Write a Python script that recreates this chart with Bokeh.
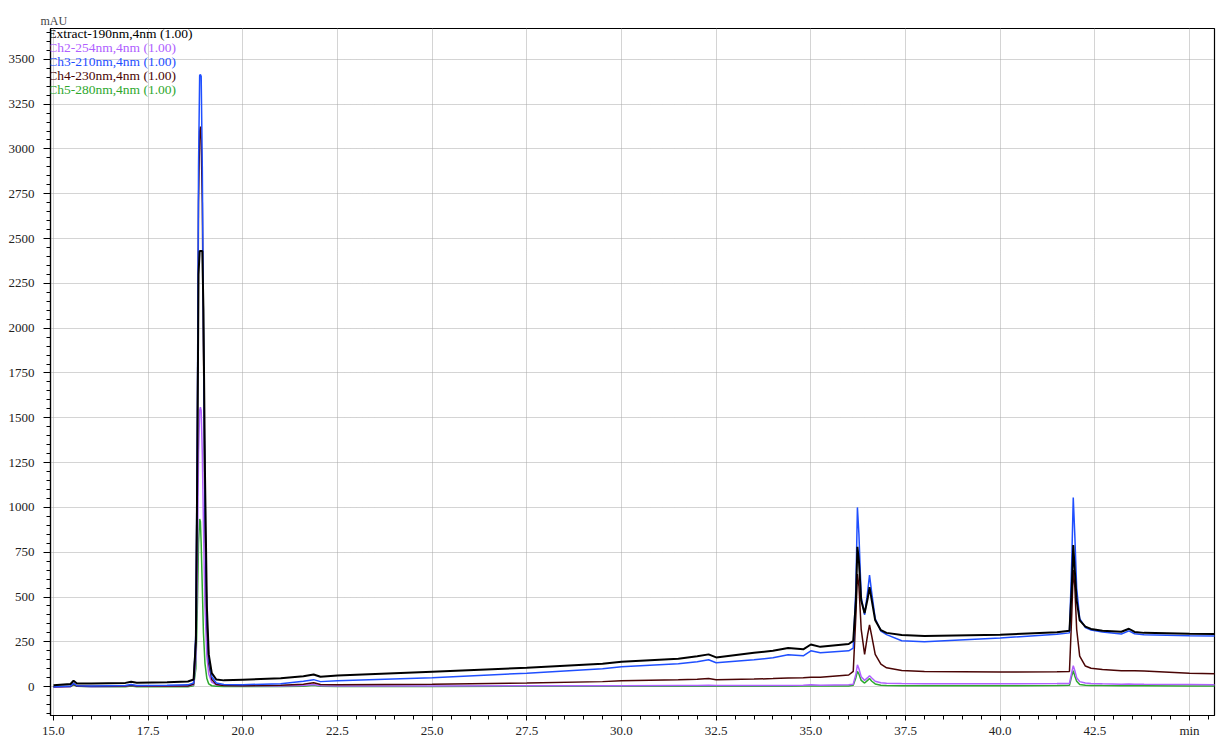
from bokeh.plotting import figure
from bokeh.models import Range1d, FixedTicker, Label, NumeralTickFormatter
from bokeh.embed import file_html
from bokeh.resources import INLINE

# retention time (min)
time_min = [
    15.00, 15.45, 15.53, 15.62, 16.00, 16.90, 17.05, 17.20, 18.00, 18.55,
    18.70, 18.76, 18.80, 18.83, 18.86, 18.88, 18.90, 18.93, 18.96, 19.00,
    19.05, 19.10, 19.18, 19.30, 19.50, 20.00, 21.00, 21.60, 21.87, 22.05,
    22.50, 25.00, 27.50, 29.50, 30.00, 31.50, 32.00, 32.30, 32.50, 33.50,
    34.00, 34.40, 34.80, 35.00, 35.25, 36.00, 36.12, 36.19, 36.23, 36.27,
    36.33, 36.42, 36.50, 36.55, 36.61, 36.70, 36.85, 37.00, 37.40, 38.00,
    40.00, 41.50, 41.83, 41.89, 41.93, 41.97, 42.02, 42.10, 42.25, 42.40,
    42.70, 43.20, 43.40, 43.55, 43.80, 45.00, 45.80,
]

extract_190 = [
    8, 15, 33, 18, 17, 21, 27, 22, 25, 29,
    40, 250, 1300, 2300, 2430, 2430, 2430, 2430, 2100, 1200,
    450, 180, 75, 40, 35, 39, 47, 58, 68, 55,
    62, 83, 105, 128, 139, 156, 170, 180, 163, 189,
    200, 215, 208, 235, 222, 238, 255, 480, 780, 700,
    480, 410, 490, 555, 480, 370, 315, 300, 288, 283,
    290, 303, 312, 550, 790, 650, 480, 370, 335, 322,
    312, 306, 323, 305, 300, 295, 293,
]

ch2_254 = [
    -3, 0, 18, 3, 0, 2, 8, 2, 2, 3,
    10, 150, 700, 1300, 1540, 1560, 1540, 1300, 900, 450,
    170, 70, 25, 10, 6, 5, 4, 6, 12, 5,
    4, 4, 5, 5, 5, 6, 6, 8, 6, 6,
    7, 7, 8, 10, 8, 10, 14, 70, 122, 100,
    55, 35, 50, 61, 48, 30, 22, 19, 17, 16,
    16, 17, 18, 80, 117, 90, 50, 28, 20, 18,
    16, 14, 15, 14, 13, 12, 11,
]

ch3_210 = [
    0, 3, 18, 5, 4, 6, 12, 7, 8, 10,
    20, 300, 1500, 2900, 3410, 3415, 3405, 2900, 2000, 1000,
    380, 150, 55, 20, 12, 11, 16, 30, 39, 28,
    33, 50, 75, 100, 111, 128, 139, 150, 133, 150,
    161, 178, 172, 200, 189, 200, 215, 550, 1000, 850,
    500, 400, 530, 622, 520, 380, 310, 290, 256, 250,
    272, 292, 300, 700, 1055, 850, 550, 380, 330, 316,
    305, 294, 311, 295, 289, 284, 282,
]

ch4_230 = [
    0, 2, 14, 3, 2, 3, 8, 3, 3, 4,
    15, 280, 1400, 2700, 3100, 3125, 3050, 2700, 1900, 950,
    350, 130, 40, 12, 6, 5, 8, 14, 22, 12,
    11, 13, 20, 28, 33, 38, 41, 46, 39, 42,
    45, 48, 49, 52, 52, 65, 85, 400, 628, 560,
    320, 180, 290, 344, 280, 180, 125, 105, 90, 84,
    82, 83, 85, 400, 650, 560, 320, 170, 115, 103,
    95, 89, 88, 88, 87, 75, 72,
]

ch5_280 = [
    -2, 0, 10, 2, 0, 0, 3, 0, 0, 0,
    5, 100, 450, 800, 935, 920, 800, 550, 300, 130,
    45, 15, 5, 2, 1, 1, 1, 2, 8, 2,
    1, 1, 2, 2, 2, 2, 2, 3, 2, 2,
    2, 2, 3, 4, 3, 4, 8, 50, 85, 70,
    35, 20, 35, 45, 30, 15, 8, 6, 5, 5,
    5, 6, 8, 60, 89, 60, 30, 12, 8, 7,
    6, 5, 5, 5, 5, 4, 4,
]

channel_names = [
    "Extract-190nm,4nm (1.00)",
    "Ch2-254nm,4nm (1.00)",
    "Ch3-210nm,4nm (1.00)",
    "Ch4-230nm,4nm (1.00)",
    "Ch5-280nm,4nm (1.00)",
]
channel_colors = ["#000000", "#b060ff", "#1f4fff", "#4a0505", "#2ea82e"]

x_ticks = [15.0, 17.5, 20.0, 22.5, 25.0, 27.5, 30.0, 32.5, 35.0, 37.5, 40.0, 42.5, 45.0]
y_ticks = [0, 250, 500, 750, 1000, 1250, 1500, 1750, 2000, 2250, 2500, 2750, 3000, 3250, 3500]

FONT = "Liberation Serif"

p = figure(width=1216, height=740, output_backend="svg", toolbar_location=None,
           x_range=Range1d(14.921, 45.66), y_range=Range1d(-161, 3672),
           min_border_left=50, min_border_right=2, min_border_top=28, min_border_bottom=22,
           background_fill_color="white", border_fill_color="white")

p.outline_line_color = "black"
p.outline_line_width = 1.2
p.outline_line_alpha = 1.0

p.title.text = "mAU"
p.title.text_font = FONT
p.title.text_font_size = "12px"
p.title.text_font_style = "normal"
p.title.align = "left"
p.title.offset = -10
p.title.standoff = 2

xminor = [15.0 + 0.5 * i for i in range(62)]
yminor = [-150 + 50 * i for i in range(77)]
p.xaxis.ticker = FixedTicker(ticks=x_ticks, minor_ticks=xminor)
p.yaxis.ticker = FixedTicker(ticks=y_ticks, minor_ticks=yminor)
p.xaxis.formatter = NumeralTickFormatter(format="0.0")
p.xaxis.major_label_overrides = {45.0: "min"}

for ax in (p.xaxis[0], p.yaxis[0]):
    ax.axis_line_color = "black"
    ax.axis_line_width = 1.2
    ax.major_tick_line_color = "black"
    ax.minor_tick_line_color = "black"
    ax.major_tick_in = 0
    ax.minor_tick_in = 0
    ax.major_label_text_font = FONT
    ax.major_label_text_font_size = "13px"
    ax.major_label_text_color = "#222222"

p.yaxis.major_tick_out = 7
p.yaxis.minor_tick_out = 4
p.yaxis.major_label_standoff = 9
p.xaxis.major_tick_out = 5
p.xaxis.minor_tick_out = 4
p.xaxis.major_label_standoff = 2

p.grid.grid_line_color = "#a8a8a8"
p.grid.grid_line_dash = "1 1"
p.grid.grid_line_width = 1

series = [extract_190, ch2_254, ch3_210, ch4_230, ch5_280]
draw_order = [4, 1, 3, 2, 0]
for i in draw_order:
    p.line(time_min, series[i], line_color=channel_colors[i],
           line_width=2.0 if i == 0 else 1.5)

legend_y = [3644, 3567, 3489, 3411, 3333]
for name, color, yy in zip(channel_names, channel_colors, legend_y):
    p.add_layout(Label(x=14.86, y=yy, text=name, text_color=color,
                       text_font=FONT, text_font_size="13.5px",
                       text_baseline="middle", text_align="left"))

open("out.html", "w").write(file_html(p, INLINE))
